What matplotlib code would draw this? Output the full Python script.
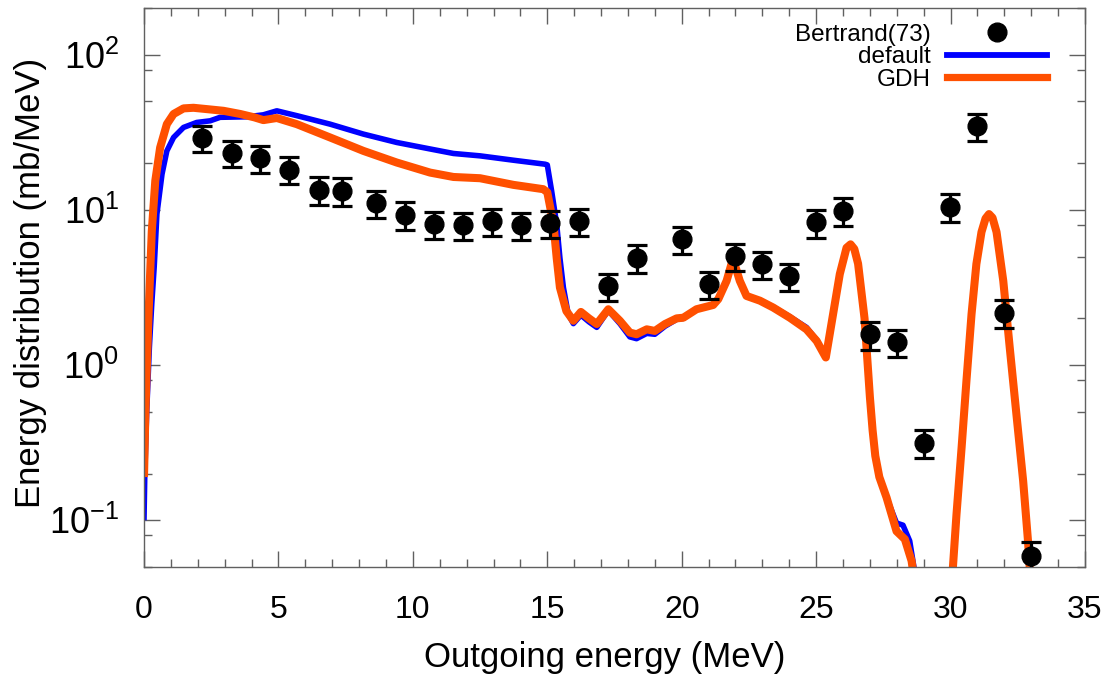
import numpy as np
import matplotlib
matplotlib.use("Agg")
import matplotlib.pyplot as plt
from matplotlib.ticker import LogLocator, MultipleLocator, NullFormatter
from matplotlib.lines import Line2D

plt.rcParams['font.family'] = ['Liberation Sans', 'DejaVu Sans']
plt.rcParams['mathtext.fontset'] = 'custom'
plt.rcParams['mathtext.rm'] = 'Liberation Sans'
plt.rcParams['mathtext.it'] = 'Liberation Sans:italic'
plt.rcParams['mathtext.bf'] = 'Liberation Sans:bold'

nan = np.nan

# Experimental data: Bertrand(73)
exp_x = [2.16, 3.28, 4.33, 5.40, 6.52, 7.38, 8.64, 9.72, 10.79, 11.87, 12.95, 14.03,
         15.10, 16.18, 17.26, 18.34, 20.00, 21.00, 21.98, 22.98, 23.98, 24.99, 25.99,
         26.99, 28.00, 29.00, 29.97, 30.97, 31.98, 32.98]
exp_y = [29.2, 23.3, 21.7, 18.2, 13.5, 13.3, 11.1, 9.3, 8.1, 8.0, 8.5, 8.0,
         8.2, 8.5, 3.24, 4.93, 6.49, 3.33, 5.06, 4.48, 3.76, 8.3, 9.86,
         1.58, 1.40, 0.316, 10.5, 34.8, 2.18, 0.0589]
exp_err = [5.5, 4.5, 4.3, 3.6, 2.7, 2.7, 2.2, 1.9, 1.6, 1.6, 1.7, 1.6,
           1.6, 1.7, 0.65, 1.0, 1.3, 0.67, 1.0, 0.9, 0.75, 1.7, 2.0,
           0.32, 0.28, 0.065, 2.1, 7.0, 0.44, 0.014]

# Calculation: default
def_x = [0.0, 0.03, 0.10, 0.20, 0.29, 0.38, 0.48, 0.67, 0.85, 1.10, 1.47, 1.96, 2.46,
         2.83, 3.83, 4.44, 4.94, 5.68, 6.92, 8.16, 9.40, 10.64, 11.51, 12.50, 13.74,
         14.92, 15.00, 15.16, 15.35, 15.47, 15.60, 15.78, 15.97, 16.25, 16.55, 16.84,
         17.27, 17.70, 18.07, 18.32, 18.70, 19.00, 19.38, 19.81, 20.06, 20.55, 21.17,
         21.36, 21.67, 21.85, 21.93, 22.16, 22.41, 22.91, 23.40, 24.02, 24.64, 25.02,
         25.36, 25.63, 25.88, 26.13, 26.28, 26.42, 26.56, 26.80, 27.00, 27.10, 27.20,
         27.35, 27.62, 27.99, 28.23, 28.48, 28.68, 29.40, 30.07, 30.22, 30.41, 30.59,
         30.78, 30.96, 31.15, 31.30, 31.43, 31.56, 31.71, 31.96, 32.20, 32.45, 32.70,
         32.88, 32.96]
def_y = [0.10, 0.2, 0.5, 1.3, 2.5, 4.3, 9.4, 17.0, 24.0, 29.3, 34.0, 36.6, 37.5,
         39.5, 39.8, 41.0, 43.5, 40.5, 35.7, 30.8, 27.2, 24.7, 23.1, 22.3, 20.9,
         19.7, 19.5, 13.3, 8.1, 4.9, 3.16, 2.13, 1.85, 2.1, 1.9, 1.75,
         2.25, 1.85, 1.52, 1.48, 1.60, 1.58, 1.78, 1.97, 2.0, 2.29, 2.44,
         2.66, 3.49, 4.48, 4.7, 3.49, 2.79, 2.6, 2.37, 2.05, 1.75, 1.45,
         1.12, 2.13, 3.86, 5.7, 6.0, 5.6, 4.5, 2.0, 0.62, 0.38, 0.26,
         0.19, 0.14, 0.096, 0.093, 0.0736, 0.045, nan, 0.045, 0.109, 0.294, 0.79,
         2.13, 4.48, 7.2, 8.8, 9.4, 8.9, 7.2, 3.49, 1.30, 0.48, 0.179,
         0.0736, 0.045]

# Calculation: GDH
gdh_x = [0.0, 0.05, 0.17, 0.29, 0.42, 0.60, 0.85, 1.10, 1.47, 1.84, 2.40, 2.96, 3.58,
         4.10, 4.44, 4.94, 5.68, 6.92, 8.16, 9.40, 10.64, 11.51, 12.50, 13.74, 14.85,
         15.00, 15.23, 15.35, 15.47, 15.71, 15.97, 16.25, 16.55, 16.84, 17.27, 17.70,
         18.07, 18.32, 18.70, 19.00, 19.38, 19.81, 20.06, 20.55, 21.17, 21.36, 21.67,
         21.85, 21.93, 22.16, 22.41, 22.91, 23.40, 24.02, 24.64, 25.02, 25.36, 25.63,
         25.88, 26.13, 26.28, 26.42, 26.56, 26.80, 27.00, 27.10, 27.20, 27.35, 27.62,
         27.99, 28.30, 28.55, 28.62, 29.40, 30.07, 30.22, 30.41, 30.59, 30.78, 30.96,
         31.15, 31.30, 31.43, 31.56, 31.71, 31.96, 32.20, 32.45, 32.70, 32.88, 32.96]
gdh_y = [0.19, 0.48, 2.14, 7.3, 15.4, 25.2, 35.7, 41.5, 45.1, 45.5, 44.5, 43.5, 41.5,
         39.5, 37.9, 39.1, 35.7, 29.3, 24.0, 20.2, 17.4, 16.3, 16.0, 14.5, 13.6,
         13.0, 8.1, 4.9, 3.16, 2.23, 1.93, 2.2, 2.0, 1.84, 2.29, 1.93,
         1.62, 1.58, 1.70, 1.66, 1.84, 2.0, 2.02, 2.29, 2.44, 2.66, 3.49,
         4.48, 4.7, 3.49, 2.79, 2.6, 2.35, 2.02, 1.70, 1.43, 1.12, 2.13,
         3.86, 5.7, 6.0, 5.6, 4.5, 2.0, 0.62, 0.38, 0.26, 0.19, 0.14,
         0.085, 0.0755, 0.0547, 0.045, nan, 0.045, 0.109, 0.294, 0.79, 2.13, 4.48,
         7.2, 8.8, 9.4, 8.9, 7.2, 3.49, 1.30, 0.48, 0.179, 0.0736, 0.045]

BLUE = '#0000ff'
ORANGE = '#ff5000'
GRAY = '#606060'

fig = plt.figure(figsize=(11.16, 6.97), dpi=100)
ax = fig.add_axes([144/1116, 1-567/697, (1085-144)/1116, (567-8)/697])

ax.plot(def_x, def_y, color=BLUE, lw=4.0, zorder=2, solid_joinstyle='round',
        solid_capstyle='butt')
ax.plot(gdh_x, gdh_y, color=ORANGE, lw=5.8, zorder=2.1, solid_joinstyle='round',
        solid_capstyle='butt')
ax.errorbar(exp_x, exp_y, yerr=exp_err, fmt='o', color='black', ms=13.5,
            elinewidth=2.3, capsize=7, capthick=2.3, zorder=3)

ax.set_yscale('log')
ax.set_xlim(0, 35)
ax.set_ylim(0.05, 200)
ax.xaxis.set_major_locator(MultipleLocator(5))
ax.xaxis.set_minor_locator(MultipleLocator(1))
ax.yaxis.set_major_locator(LogLocator(base=10, numticks=12))
ax.yaxis.set_minor_locator(LogLocator(base=10, subs=[2, 5, 8], numticks=12))
ax.yaxis.set_minor_formatter(NullFormatter())

ax.tick_params(which='both', direction='in', top=True, right=True, color=GRAY, width=1)
ax.tick_params(which='major', length=11.5)
ax.tick_params(which='minor', length=5.5)
ax.tick_params(axis='x', labelsize=23, pad=20)
ax.tick_params(axis='y', labelsize=26, pad=18)
for s in ax.spines.values():
    s.set_color(GRAY)
    s.set_linewidth(1)

fig.text(605/1116, 1-657/697, 'Outgoing energy (MeV)', fontsize=25,
         ha='center', va='center')
fig.text(31/1116, 1-283/697, 'Energy distribution (mb/MeV)', fontsize=25,
         ha='center', va='center', rotation=90)

handles = [Line2D([], [], marker='o', color='black', ms=13.5, ls='none'),
           Line2D([], [], color=BLUE, lw=4.2),
           Line2D([], [], color=ORANGE, lw=5.2)]
labels = ['Bertrand(73)', 'default', 'GDH']
ax.legend(handles, labels, loc='upper right', bbox_to_anchor=((1047-144)/941, 0.972),
          frameon=False, markerfirst=False, fontsize=17.5, handlelength=4.1,
          handletextpad=0.7, labelspacing=0.02, borderpad=0, borderaxespad=0,
          numpoints=1)

fig.savefig('out.png', dpi=100)
